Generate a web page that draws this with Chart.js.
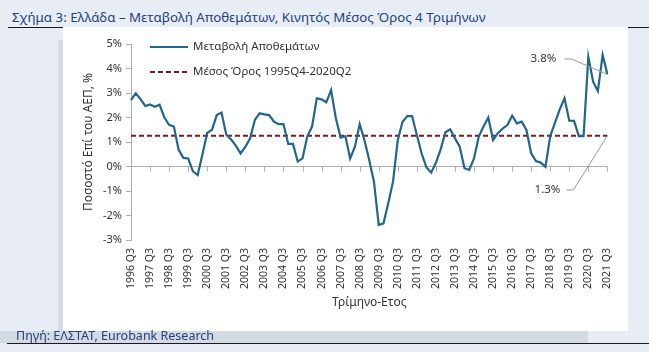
<!DOCTYPE html>
<html>
<head>
<meta charset="utf-8">
<title>Μεταβολή Αποθεμάτων</title>
<script src="https://cdn.jsdelivr.net/npm/chart.js"></script>
<style>
  body { margin: 0; width: 649px; height: 352px; background: #e8edf5; position: relative; overflow: hidden; font-family: 'Noto Sans', sans-serif; }
  .title { position: absolute; left: 12px; top: 8px; font-size: 13.3px; color: #24417a; white-space: nowrap; }
  .rule-top { position: absolute; left: 8px; right: 0; top: 27px; height: 1px; background: #1a1a1a; }
  .shadow { position: absolute; left: 58px; top: 40px; width: 5px; height: 291px; background: #d6dce5; }
  .panel { position: absolute; left: 63px; top: 27px; width: 565px; height: 304px; background: #fff; }
  .band { position: absolute; left: 0; top: 331px; width: 588px; height: 12px; background: #d4dae3; }
  .source { position: absolute; left: 16px; top: 327px; font-size: 12.5px; color: #24417a; white-space: nowrap; }
  .rule-bottom { position: absolute; left: 7px; right: 0; top: 343px; height: 1px; background: #1a1a1a; }
  canvas { position: absolute; left: 0; top: 0; }
</style>
</head>
<body>
  <div class="title">Σχήμα 3: Ελλάδα – Μεταβολή Αποθεμάτων, Κινητός Μέσος Όρος 4 Τριμήνων</div>
  <div class="rule-top"></div>
  <div class="shadow"></div>
  <div class="panel"><canvas id="chart" width="565" height="304"></canvas></div>
  <div class="band"></div>
  <div class="source">Πηγή: ΕΛΣΤΑΤ, Eurobank Research</div>
  <div class="rule-bottom"></div>

<script>
// quarters 1996 Q3 .. 2021 Q3
const startYear = 1996;
const quarters = [];
for (let i = 0; i < 101; i++) {
  const q = (2 + i) % 4 + 1;
  const yr = startYear + Math.floor((2 + i) / 4);
  quarters.push(yr + ' Q' + q);
}

// change in inventories, % of GDP (4q moving average)
const inventories = [
  2.71, 2.99, 2.75, 2.47, 2.53, 2.44, 2.52, 2.00, 1.70, 1.63,
  0.68, 0.35, 0.33, -0.20, -0.35, 0.50, 1.37, 1.50, 2.10, 2.20,
  1.30, 1.10, 0.85, 0.53, 0.80, 1.15, 1.90, 2.17, 2.13, 2.10,
  1.83, 1.73, 1.73, 0.92, 0.92, 0.20, 0.33, 1.22, 1.63, 2.78,
  2.74, 2.62, 3.12, 1.97, 1.18, 1.24, 0.33, 0.81, 1.73, 1.08,
  0.27, -0.62, -2.39, -2.32, -1.50, -0.62, 1.08, 1.83, 2.06, 2.06,
  1.29, 0.54, -0.03, -0.25, 0.15, 0.70, 1.40, 1.52, 1.15, 0.81,
  -0.07, -0.14, 0.33, 1.22, 1.63, 2.00, 1.08, 1.36, 1.55, 1.69,
  2.07, 1.76, 1.83, 1.49, 0.54, 0.22, 0.16, -0.01, 1.24, 1.79,
  2.33, 2.78, 1.87, 1.86, 1.24, 1.24, 4.48, 3.46, 3.08, 4.55,
  3.76
];

const meanValue = 1.26;   // average 1995Q4-2020Q2
const seriesNames = ['Μεταβολή Αποθεμάτων', 'Μέσος Όρος 1995Q4-2020Q2'];
const yTicks = [-3, -2, -1, 0, 1, 2, 3, 4, 5];

const FONT = "'Noto Sans', sans-serif";
const BLUE = '#22668f';
const RED = '#7a1c1c';

const extras = {
  id: 'extras',
  beforeDatasetsDraw(chart) {
    const { ctx, scales: { x, y } } = chart;
    const y0 = y.getPixelForValue(0);
    ctx.save();
    ctx.strokeStyle = '#b0b0b0';
    ctx.lineWidth = 1;
    quarters.forEach((q, i) => {
      if (i % 4) return;
      const px = Math.round(x.getPixelForValue(i)) + 0.5;
      ctx.beginPath();
      ctx.moveTo(px, y0);
      ctx.lineTo(px, y0 + 5);
      ctx.stroke();
    });
    ctx.restore();
  },
  afterDraw(chart) {
    const { ctx, chartArea: area, scales: { x, y } } = chart;
    ctx.save();

    // legend
    const lx = area.left + 19;
    ctx.font = '11.5px ' + FONT;
    ctx.fillStyle = '#333';
    ctx.textBaseline = 'middle';
    ctx.textAlign = 'left';
    ctx.lineWidth = 2.2;
    ctx.strokeStyle = BLUE;
    ctx.beginPath(); ctx.moveTo(lx, area.top + 3); ctx.lineTo(lx + 38, area.top + 3); ctx.stroke();
    ctx.fillText(seriesNames[0], lx + 43, area.top + 3);
    ctx.strokeStyle = RED;
    ctx.lineWidth = 2;
    ctx.setLineDash([5, 3]);
    ctx.beginPath(); ctx.moveTo(lx, area.top + 28); ctx.lineTo(lx + 38, area.top + 28); ctx.stroke();
    ctx.setLineDash([]);
    ctx.fillText(seriesNames[1], lx + 43, area.top + 28);

    // callouts
    const last = inventories.length - 1;
    const ex = x.getPixelForValue(last);
    const eyLast = y.getPixelForValue(inventories[last]);
    const eyMean = y.getPixelForValue(meanValue);
    ctx.strokeStyle = '#9a9a9a';
    ctx.lineWidth = 1;
    ctx.textAlign = 'right';

    const t1y = area.top + 15;
    ctx.fillText(inventories[last].toFixed(1) + '%', ex - 51, t1y);
    ctx.beginPath(); ctx.moveTo(ex - 43, t1y); ctx.lineTo(ex - 36, t1y); ctx.lineTo(ex, eyLast); ctx.stroke();

    const t2y = area.top + 146;
    ctx.fillText(meanValue.toFixed(1) + '%', ex - 47, t2y);
    ctx.beginPath(); ctx.moveTo(ex - 41, t2y); ctx.lineTo(ex - 34, t2y); ctx.lineTo(ex, eyMean); ctx.stroke();

    ctx.restore();
  }
};

new Chart(document.getElementById('chart'), {
  type: 'line',
  data: {
    labels: quarters,
    datasets: [
      {
        label: seriesNames[0],
        data: inventories,
        borderColor: BLUE,
        borderWidth: 2.2,
        pointRadius: 0,
        tension: 0
      },
      {
        label: seriesNames[1],
        data: [{ x: quarters[0], y: meanValue }, { x: quarters[quarters.length - 1], y: meanValue }],
        borderColor: RED,
        borderWidth: 2,
        borderDash: [5, 3],
        pointRadius: 0
      }
    ]
  },
  options: {
    responsive: false,
    animation: false,
    layout: { padding: { top: 17, right: 20, left: 0, bottom: 0 } },
    plugins: { legend: { display: false }, tooltip: { enabled: false } },
    scales: {
      x: {
        grid: { display: false, drawTicks: false },
        border: { display: false },
        ticks: {
          autoSkip: false,
          minRotation: 90,
          maxRotation: 90,
          padding: 8,
          color: '#333',
          font: { family: FONT, size: 10.5 },
          callback: (v, i) => (i % 4 === 0 ? quarters[i] : '')
        },
        title: {
          display: true,
          text: 'Τρίμηνο-Ετος',
          color: '#333',
          font: { family: FONT, size: 12 },
          padding: { top: 0, bottom: 21 }
        },
        afterFit: (s) => { s.height = 91; }
      },
      y: {
        min: -3,
        max: 5,
        afterBuildTicks: (s) => { s.ticks = yTicks.map(v => ({ value: v })); },
        grid: {
          color: (c) => (c.tick && c.tick.value === 0 ? '#b0b0b0' : 'rgba(0,0,0,0)'),
          tickColor: '#b0b0b0',
          tickLength: 5
        },
        border: { display: true, color: '#b0b0b0' },
        ticks: {
          padding: 4,
          color: '#333',
          font: { family: FONT, size: 11 },
          callback: (v) => v + '%'
        },
        title: {
          display: true,
          text: 'Ποσοστό Επί του ΑΕΠ, %',
          color: '#333',
          font: { family: FONT, size: 12 },
          padding: { top: 18, bottom: 0 }
        },
        afterFit: (s) => { s.width = 68; }
      }
    }
  },
  plugins: [extras]
});
</script>
</body>
</html>
